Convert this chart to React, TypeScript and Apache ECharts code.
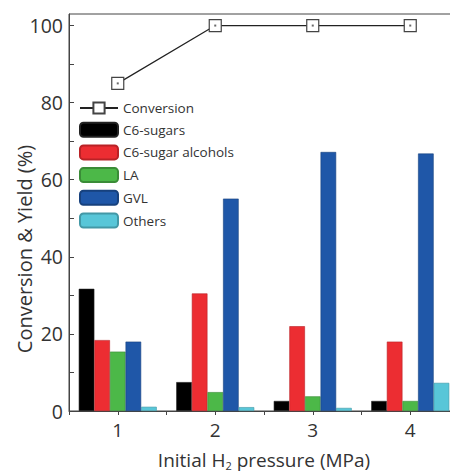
import React, { useEffect, useRef } from "react";
import * as echarts from "echarts";

const categories = ["1", "2", "3", "4"];
const conversion = [85, 100, 100, 100];
const c6Sugars = [31.7, 7.5, 2.6, 2.6];
const c6SugarAlcohols = [18.4, 30.5, 22.0, 18.0];
const la = [15.4, 4.9, 3.8, 2.6];
const gvl = [18.0, 55.1, 67.2, 66.8];
const others = [1.1, 1.0, 0.8, 7.3];

const FONT = "Open Sans";

export default function App() {
  const ref = useRef<HTMLDivElement>(null);
  useEffect(() => {
    if (!ref.current) return;
    const chart = echarts.init(ref.current, null, { renderer: "svg" });
    const bar = (name: string, data: number[], color: string, border: string) => ({
      name,
      type: "bar",
      data,
      xAxisIndex: 0,
      barGap: "0%",
      barCategoryGap: "20%",
      itemStyle: { color, borderColor: border, borderWidth: 0.6 },
      z: 2,
    });
    chart.setOption({
      animation: false,
      backgroundColor: "#fff",
      textStyle: { fontFamily: FONT },
      grid: {
        left: 69,
        top: 14,
        height: 397,
        width: 390,
        outerBoundsMode: "none",
        containLabel: false,
        show: true,
        borderColor: "#444",
        borderWidth: 1,
        backgroundColor: "transparent",
      },
      legend: {
        orient: "vertical",
        left: 79,
        top: 101,
        padding: 0,
        itemWidth: 38,
        itemHeight: 14,
        itemGap: 6.7,
        textStyle: { fontFamily: FONT, fontSize: 13.5, color: "#333", lineHeight: 14 },
        data: ["Conversion", "C6-sugars", "C6-sugar alcohols", "LA", "GVL", "Others"],
      },
      graphic: [
        {
          type: "text",
          x: 24,
          y: 249,
          rotation: Math.PI / 2,
          style: {
            text: "Conversion & Yield (%)",
            fontFamily: FONT,
            fontSize: 20,
            fill: "#333",
            align: "center",
            verticalAlign: "middle",
          },
        },
      ],
      xAxis: [
        {
          type: "category",
          data: categories,
          boundaryGap: true,
          position: "bottom",
          axisLine: { lineStyle: { color: "#444", width: 1 } },
          axisTick: { show: true, inside: false, length: 4, interval: 0, lineStyle: { color: "#444" } },
          axisLabel: { fontFamily: FONT, fontSize: 19, color: "#333", margin: 9 },
          name: "{a|Initial H}{s|2}{a| pressure (MPa)}",
          nameLocation: "middle",
          nameGap: 37,
          nameTextStyle: {
            rich: {
              a: { fontFamily: FONT, fontSize: 19, color: "#333" },
              s: { fontFamily: FONT, fontSize: 11, color: "#333", verticalAlign: "bottom", padding: [12, 0, 0, 0] },
            },
          },
        },
        {
          type: "category",
          data: categories,
          boundaryGap: true,
          position: "bottom",
          axisLine: { show: false },
          axisTick: { show: true, alignWithLabel: true, inside: false, length: 4, lineStyle: { color: "#444" } },
          axisLabel: { show: false },
          splitLine: { show: false },
        },
      ],
      yAxis: {
        type: "value",
        min: 0,
        max: 103,
        interval: 10,
        axisLine: { show: true, lineStyle: { color: "#444", width: 1 } },
        axisTick: { show: true, inside: true, length: 5, lineStyle: { color: "#444" } },
        splitLine: { show: false },
        axisLabel: {
          fontFamily: FONT,
          fontSize: 19.5,
          color: "#333",
          margin: 6,
          showMaxLabel: false,
          formatter: (v: number) => (v % 20 === 0 && v <= 100 ? String(v) : ""),
        },
      },
      series: [
        bar("C6-sugars", c6Sugars, "#000000", "#222"),
        bar("C6-sugar alcohols", c6SugarAlcohols, "#ec2d32", "#b92226"),
        bar("LA", la, "#4cb848", "#3a8c37"),
        bar("GVL", gvl, "#1f57a8", "#17417d"),
        bar("Others", others, "#58c6d8", "#4398a6"),
        {
          name: "Conversion",
          type: "line",
          data: conversion,
          xAxisIndex: 0,
          symbol: "rect",
          symbolSize: 12,
          itemStyle: { color: "#fff", borderColor: "#444", borderWidth: 1.2 },
          lineStyle: { color: "#222", width: 1.2 },
          z: 5,
        },
        {
          name: "dot",
          type: "scatter",
          data: conversion,
          xAxisIndex: 0,
          symbol: "rect",
          symbolSize: 2,
          itemStyle: { color: "#444" },
          z: 6,
          silent: true,
        },
      ],
    });
    return () => chart.dispose();
  }, []);
  return (
    <div
      ref={ref}
      style={{ position: "fixed", left: 0, top: 0, width: 450, height: 474, overflow: "hidden" }}
    />
  );
}
